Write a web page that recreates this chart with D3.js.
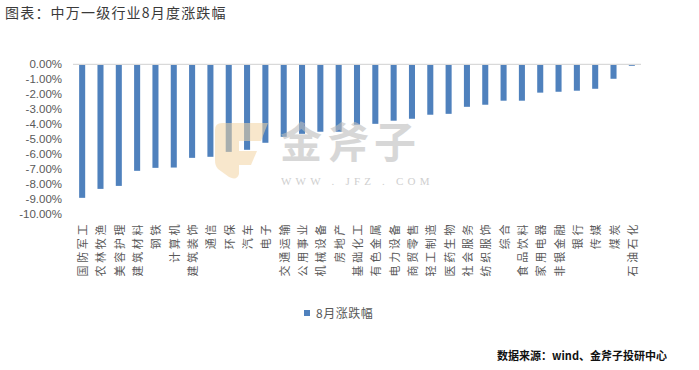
<!DOCTYPE html>
<html>
<head>
<meta charset="utf-8">
<script src="https://cdn.jsdelivr.net/npm/d3@7"></script>
<style>
  html, body { margin: 0; padding: 0; background: #ffffff; }
  svg { display: block; }
</style>
</head>
<body>
<svg id="chart" width="699" height="370"></svg>
<script>
const categories = ["国防军工","农林牧渔","美容护理","建筑材料","钢铁","计算机","建筑装饰","通信","环保","汽车","电子","交通运输","公用事业","机械设备","房地产","基础化工","有色金属","电力设备","商贸零售","轻工制造","医药生物","社会服务","纺织服饰","综合","食品饮料","家用电器","非银金融","银行","传媒","煤炭","石油石化"];
const values = [-8.95,-8.35,-8.15,-7.14,-6.94,-6.92,-6.27,-6.20,-5.87,-5.73,-5.26,-4.86,-4.66,-4.52,-4.52,-4.05,-3.99,-3.78,-3.65,-3.38,-3.32,-2.85,-2.71,-2.44,-2.44,-1.90,-1.84,-1.77,-1.64,-0.97,-0.10];
const yTicks = [0,-1,-2,-3,-4,-5,-6,-7,-8,-9,-10];
const seriesName = "8月涨跌幅";
const titleText = "图表：中万一级行业8月度涨跌幅";
const sourceText = "数据来源：wind、金斧子投研中心";

const svg = d3.select("#chart");
const cjk = "'Noto Sans CJK SC', 'Noto Sans', sans-serif";

const x = d3.scaleBand().domain(categories).range([73, 641]).paddingInner(0.67).paddingOuter(0.335);
const y = d3.scaleLinear().domain([-10, 0]).range([213.5, 64.3]);

// title
svg.append("text").attr("x", 5).attr("y", 18)
  .attr("font-family", cjk).attr("font-size", 14).attr("letter-spacing", 1.2)
  .attr("fill", "#3a3a3a").text(titleText);

// y axis
const yAxis = d3.axisLeft(y).tickValues(yTicks).tickSize(0).tickPadding(0)
  .tickFormat(d => d.toFixed(2) + "%");
const gy = svg.append("g").attr("transform", "translate(62,0)").call(yAxis);
gy.select(".domain").remove();
gy.selectAll("text").attr("font-family", "'Liberation Sans', Arial, sans-serif")
  .attr("font-size", 11.5).attr("fill", "#595959");

// bars
svg.append("g").selectAll("rect").data(values).join("rect")
  .attr("x", (d, i) => x(categories[i]))
  .attr("y", d => y(Math.max(0, d)))
  .attr("width", x.bandwidth())
  .attr("height", d => Math.abs(y(d) - y(0)))
  .attr("fill", "#4f81bd");

// zero line
svg.append("line").attr("x1", 73).attr("x2", 641).attr("y1", y(0)).attr("y2", y(0))
  .attr("stroke", "#d9d9d9").attr("stroke-width", 1.2);

// x labels
svg.append("g").selectAll("text").data(categories).join("text")
  .attr("transform", d => `translate(${x(d) + x.bandwidth() / 2},222) rotate(-90)`)
  .attr("text-anchor", "end").attr("dominant-baseline", "central")
  .attr("font-family", cjk).attr("font-size", 11).attr("letter-spacing", 2.6)
  .attr("fill", "#595959").text(d => d);

// watermark
const wm = svg.append("g").attr("pointer-events", "none");
wm.append("path")
  .attr("d", "M215,130 Q215,123 222,123 L268,123 L261,141 L239,141 L239,151 L257,151 L251,165 L239,165 L239,174 Q237,181 229,177 L218,169 Q215,166 215,160 Z")
  .attr("fill", "#f3d3a3").attr("opacity", 0.55);
wm.append("text").attr("x", 280).attr("y", 158)
  .attr("font-family", cjk).attr("font-size", 42).attr("font-weight", "bold")
  .attr("letter-spacing", 5).attr("fill", "#bdbdbd").attr("opacity", 0.6).text("金斧子");
wm.append("text").attr("x", 281).attr("y", 185)
  .attr("font-family", "'Liberation Serif', 'DejaVu Serif', serif").attr("font-size", 11)
  .attr("letter-spacing", 4.2).attr("fill", "#c4c4c4").attr("opacity", 0.8).text("WWW . JFZ . COM");

// legend
svg.append("rect").attr("x", 304).attr("y", 310).attr("width", 6).attr("height", 6).attr("fill", "#4f81bd");
svg.append("text").attr("x", 316).attr("y", 318)
  .attr("font-family", cjk).attr("font-size", 12).attr("letter-spacing", 0.5)
  .attr("fill", "#595959").text(seriesName);

// source
svg.append("text").attr("x", 497).attr("y", 360)
  .attr("font-family", cjk).attr("font-size", 11).attr("font-weight", "bold")
  .attr("fill", "#111").text(sourceText);
</script>
</body>
</html>
